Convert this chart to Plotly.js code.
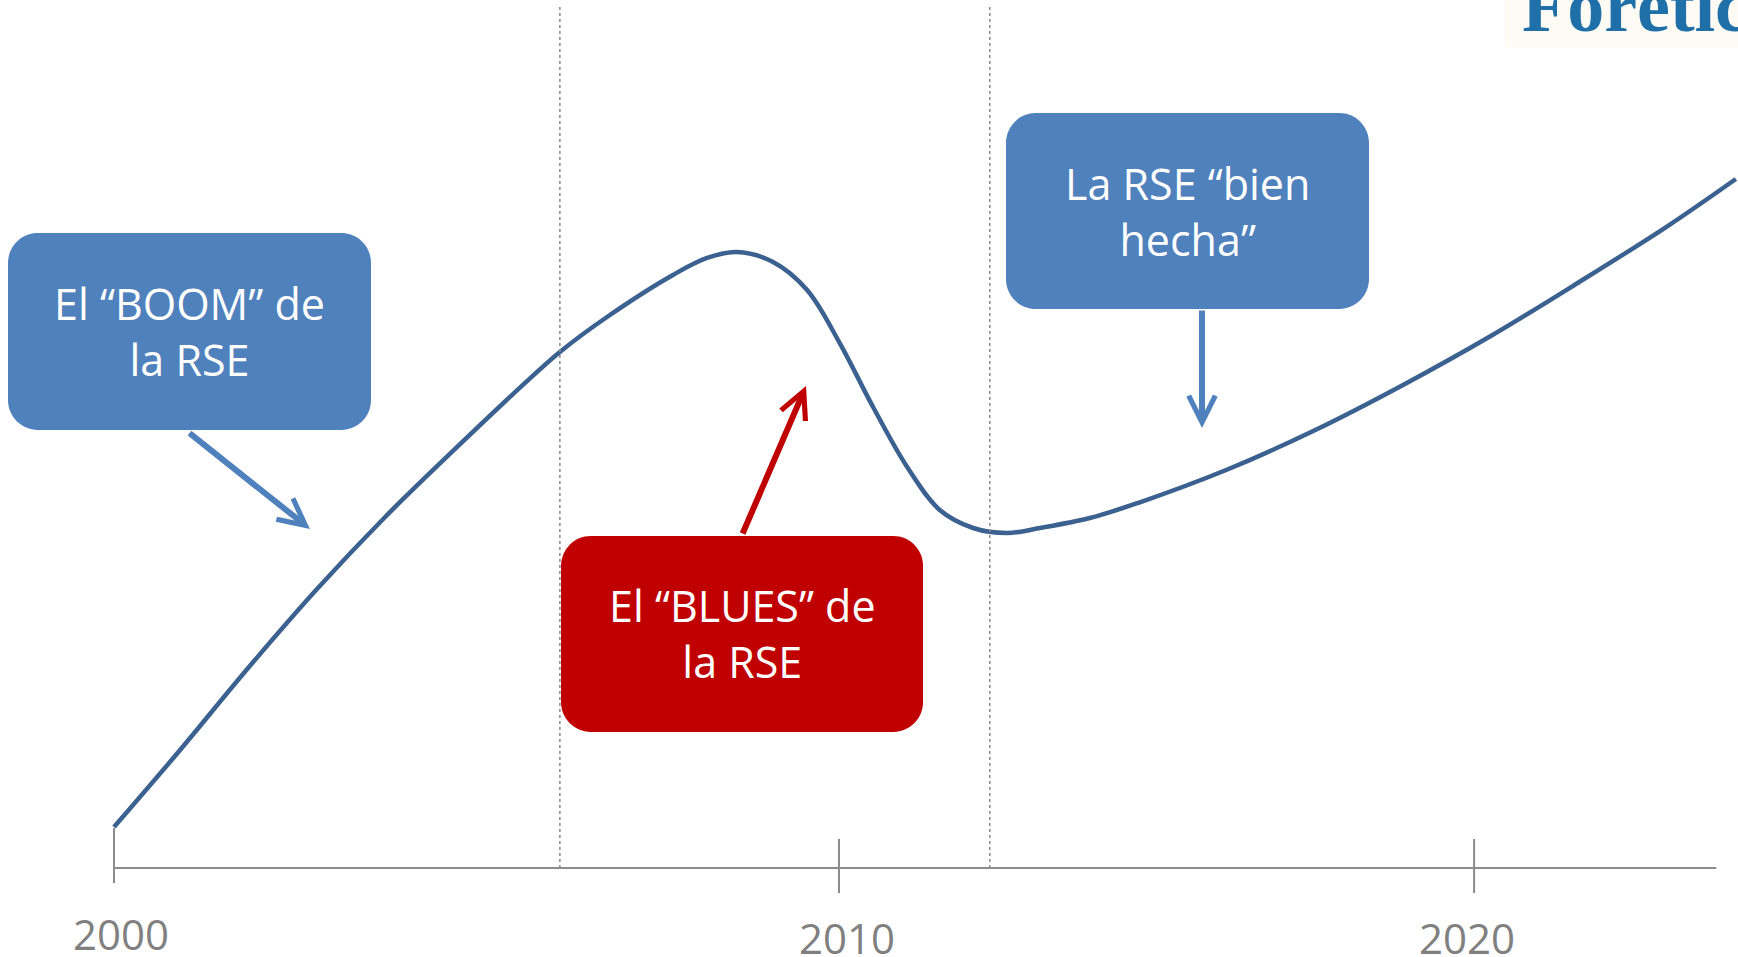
<!DOCTYPE html>
<html><head><meta charset="utf-8">
<script src="https://cdn.plot.ly/plotly-3.0.1.min.js"></script>
<style>html,body{margin:0;padding:0;background:#fff;overflow:hidden}#chart{width:1738px;height:957px}</style>
</head><body><div id="chart"></div>
<script>
// ---- data (schematic CSR trajectory) ----
const years = [2000.00, 2000.90, 2001.85, 2002.80, 2003.74, 2004.69, 2005.64, 2006.15, 2006.80, 2007.71,
               2008.18, 2008.59, 2009.09, 2009.56, 2010.01, 2010.47, 2010.94, 2011.39, 2011.85, 2012.32,
               2012.77, 2013.46, 2014.12, 2015.34, 2016.57, 2017.78, 2018.99, 2020.21, 2021.43, 2022.37];
const level = [4.72, 13.48, 23.04, 32.14, 40.44, 48.16, 55.65, 59.45, 63.48, 68.32,
               70.28, 70.97, 69.82, 66.59, 60.48, 53.11, 46.20, 41.24, 39.17, 38.59,
               39.17, 40.32, 42.05, 45.85, 50.46, 55.65, 61.29, 67.51, 73.96, 79.38];
const tickPos = [2000, 2010, 2018.76];
const tickLabels = ['2000', '2010', '2020'];
const phaseBounds = [2006.15, 2012.08];
const boxTexts = ['El “BOOM” de<br>la RSE', 'El “BLUES” de<br>la RSE', 'La RSE “bien<br>hecha”'];
const logoText = 'Forética';

// ---- layout helpers ----
const boxColors = ['#4F81BD', '#C00000', '#4F81BD'];
const boxGeom = [
  {x0: 1998.538, x1: 2003.545, y0: 50.46, y1: 73.16},
  {x0: 2006.166, x1: 2011.159, y0: 15.67, y1: 38.25},
  {x0: 2012.303, x1: 2017.310, y0: 64.40, y1: 86.98}
];
const arrows = [
  {tail: [2001.021, 50.23], tip: [2002.703, 39.06], color: '#4F81BD'},
  {tail: [2008.662, 38.36], tip: [2009.545, 55.53], color: '#C00000'},
  {tail: [2015.007, 64.40], tip: [2015.007, 50.69], color: '#4F81BD'}
];
const RX = 0.41, RY = 3.45, K = 0.5523;
function roundRect(g) {
  const {x0, x1, y0, y1} = g; const rx = RX, ry = RY;
  return `M${x0+rx},${y0} L${x1-rx},${y0} C${x1-rx+K*rx},${y0} ${x1},${y0+ry-K*ry} ${x1},${y0+ry} ` +
         `L${x1},${y1-ry} C${x1},${y1-ry+K*ry} ${x1-rx+K*rx},${y1} ${x1-rx},${y1} ` +
         `L${x0+rx},${y1} C${x0+rx-K*rx},${y1} ${x0},${y1-ry+K*ry} ${x0},${y1-ry} ` +
         `L${x0},${y0+ry} C${x0},${y0+ry-K*ry} ${x0+rx-K*rx},${y0} ${x0+rx},${y0} Z`;
}

const shapes = [];
// logo background strip
shapes.push({type: 'rect', xref: 'paper', yref: 'paper', x0: 0.866, x1: 1, y0: 0.95, y1: 1,
             fillcolor: '#fefaf4', line: {width: 0}, layer: 'below'});
// x axis line
shapes.push({type: 'line', xref: 'x', yref: 'y', x0: tickPos[0], x1: 2022.1, y0: 0, y1: 0,
             line: {color: '#8c8c8c', width: 2}});
// ticks
const tickTop = [4.61, 3.34, 3.34], tickBot = [-1.73, -2.88, -2.88];
tickPos.forEach((t, i) => shapes.push({type: 'line', xref: 'x', yref: 'y', x0: t, x1: t,
  y0: tickBot[i], y1: tickTop[i], line: {color: '#8c8c8c', width: 2}}));
// phase boundaries
phaseBounds.forEach(b => shapes.push({type: 'line', xref: 'x', yref: 'y', x0: b, x1: b, y0: 0, y1: 99.3,
  line: {color: '#8a8a8a', width: 1.5, dash: 'dot'}}));
// boxes
boxGeom.forEach((g, i) => shapes.push({type: 'path', xref: 'x', yref: 'y', path: roundRect(g),
  fillcolor: boxColors[i], line: {width: 0}, layer: 'above'}));

const annotations = [];
boxTexts.forEach((t, i) => {
  const g = boxGeom[i];
  annotations.push({x: (g.x0 + g.x1) / 2, y: (g.y0 + g.y1) / 2, xref: 'x', yref: 'y', text: t,
    showarrow: false, xanchor: 'center', yanchor: 'middle', align: 'center',
    font: {family: 'Open Sans, sans-serif', size: 43, color: '#ffffff'}});
});
arrows.forEach(a => annotations.push({x: a.tip[0], y: a.tip[1], ax: a.tail[0], ay: a.tail[1],
  xref: 'x', yref: 'y', axref: 'x', ayref: 'y', text: '', showarrow: true,
  arrowhead: 5, arrowsize: 0.87, arrowwidth: 6, arrowcolor: a.color, standoff: 0}));
const lblShiftX = [7, 8, -7], lblY = [-7.49, -8.06, -7.95];
tickLabels.forEach((l, i) => annotations.push({x: tickPos[i], y: lblY[i], xref: 'x', yref: 'y',
  xshift: lblShiftX[i], text: l, showarrow: false, xanchor: 'center', yanchor: 'middle',
  font: {family: 'Open Sans, sans-serif', size: 42, color: '#808080'}}));
annotations.push({x: 0.8746, y: 0.9488, xref: 'paper', yref: 'paper', xanchor: 'left', yanchor: 'bottom',
  text: '<b>' + logoText + '</b>', showarrow: false,
  font: {family: 'Liberation Serif, serif', size: 74, color: '#1F6FA8'}});

const traces = [{x: years, y: level, type: 'scatter', mode: 'lines',
  line: {color: '#3B6191', width: 4.5, shape: 'spline', smoothing: 1}, hoverinfo: 'skip'}];

const layout = {
  width: 1738, height: 957, margin: {l: 0, r: 0, t: 0, b: 0},
  paper_bgcolor: '#ffffff', plot_bgcolor: '#ffffff', showlegend: false,
  xaxis: {range: [1998.4276, 2022.4], visible: false, fixedrange: true},
  yaxis: {range: [-10.253, 100], visible: false, fixedrange: true},
  shapes: shapes, annotations: annotations
};
Plotly.newPlot('chart', traces, layout, {displayModeBar: false, staticPlot: true});
</script></body></html>
